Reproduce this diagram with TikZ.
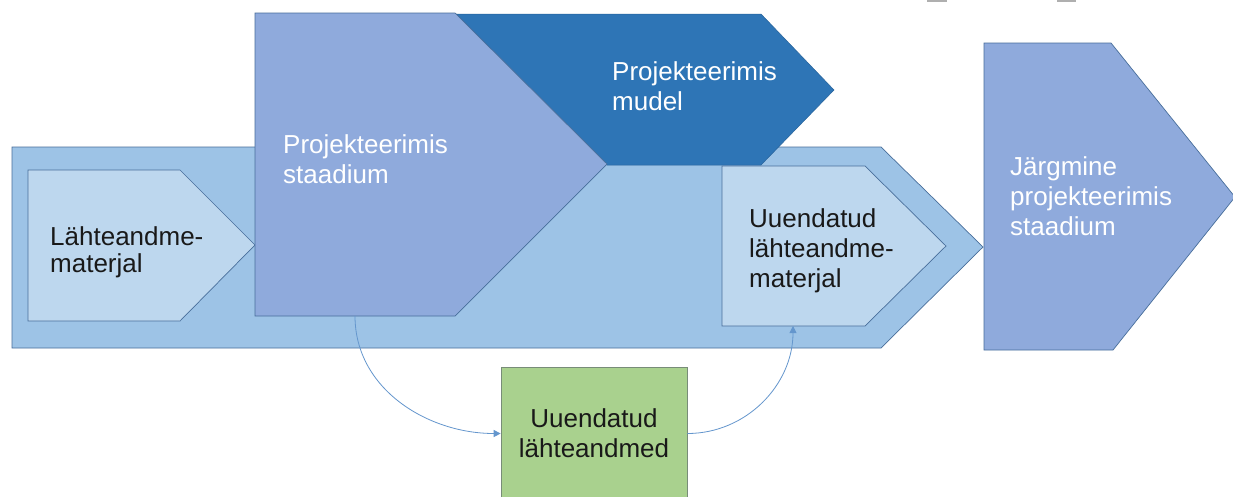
\documentclass[tikz,border=0pt]{standalone}
\usepackage{fontspec}
\setmainfont{Liberation Sans}
\usetikzlibrary{arrows.meta}
\definecolor{bgblue}{RGB}{157,195,230}
\definecolor{lightblue}{RGB}{189,215,238}
\definecolor{midblue}{RGB}{143,170,220}
\definecolor{darkblue}{RGB}{46,117,182}
\definecolor{greenfill}{RGB}{169,209,142}
\definecolor{edgecol}{RGB}{72,110,155}
\definecolor{greenedge}{RGB}{120,140,120}
\definecolor{conncol}{RGB}{100,150,205}
\definecolor{markgray}{RGB}{175,175,175}
\begin{document}
\begin{tikzpicture}[x=1pt,y=-1pt,
  shapeline/.style={draw=edgecol, line width=0.7pt, line join=miter},
  bgarrow/.style={shapeline, fill=bgblue},
  smallarrow/.style={shapeline, fill=lightblue},
  stagearrow/.style={shapeline, fill=midblue},
  modelarrow/.style={fill=darkblue, draw=darkblue!85!black, line width=0.5pt},
  lbl/.style={anchor=base west, inner sep=0pt, align=left, font=\fontsize{26}{30}\selectfont},
  whitelbl/.style={lbl, text=white},
  blacklbl/.style={lbl, text=black!90},
  greenbox/.style={draw=greenedge, line width=0.7pt, fill=greenfill, inner sep=0pt,
    minimum width=186pt, minimum height=133pt, align=center,
    font=\fontsize{26}{30}\selectfont, text=black!90},
  conn/.style={draw=conncol, line width=0.8pt, -{Triangle[width=7pt,length=7pt]}},
  scanmark/.style={fill=markgray},
]
\useasboundingbox (0,0) rectangle (1233,496);
\clip (0,0) rectangle (1233,496);
\fill[white] (0,0) rectangle (1233,496);

% scan marks at the top edge
\fill[scanmark] (927,0) rectangle (947,2);
\fill[scanmark] (1057,0) rectangle (1076,2);

% large background arrow
\draw[bgarrow] (12,147) -- (881,147) -- (983,247) -- (881,348) -- (12,348) -- cycle;

% input material
\draw[smallarrow] (28,170) -- (180,170) -- (255,245) -- (180,321) -- (28,321) -- cycle;

% design model
\draw[modelarrow] (456,14) -- (761,14) -- (834,90) -- (761,165) -- (607,165) -- cycle;

% design stage
\draw[stagearrow] (255,13) -- (455,13) -- (607,164) -- (455,316) -- (255,316) -- cycle;

% updated material
\draw[smallarrow] (722,166) -- (865,166) -- (946,246) -- (865,326) -- (722,326) -- cycle;

% next stage
\draw[stagearrow] (984,43) -- (1111,43) -- (1235,197) -- (1113,350) -- (984,350) -- cycle;

% updated data box
\node[greenbox] (green) at (594,433.5) {Uuendatud\\lähteandmed};

% connector anchors
\coordinate (stBot) at (355,316);
\coordinate (uuBot) at (793,326);

\draw[conn] (stBot) to[out=-90,in=180] (green.west);
\draw[conn] (green.east) to[out=0,in=-90] (uuBot);

% labels (base anchor = baseline of the last line)
\node[blacklbl, font=\fontsize{26}{27}\selectfont] (lahteTxt) at (50,272) {Lähteandme-\\materjal};
\node[whitelbl] (stTxt) at (283,183) {Projekteerimis\\staadium};
\node[whitelbl] (mudelTxt) at (612,110) {Projekteerimis\\mudel};
\node[blacklbl] (uuTxt) at (749,287) {Uuendatud\\lähteandme-\\materjal};
\node[whitelbl] (jrgTxt) at (1010,235) {Järgmine\\projekteerimis\\staadium};
\end{tikzpicture}
\end{document}
